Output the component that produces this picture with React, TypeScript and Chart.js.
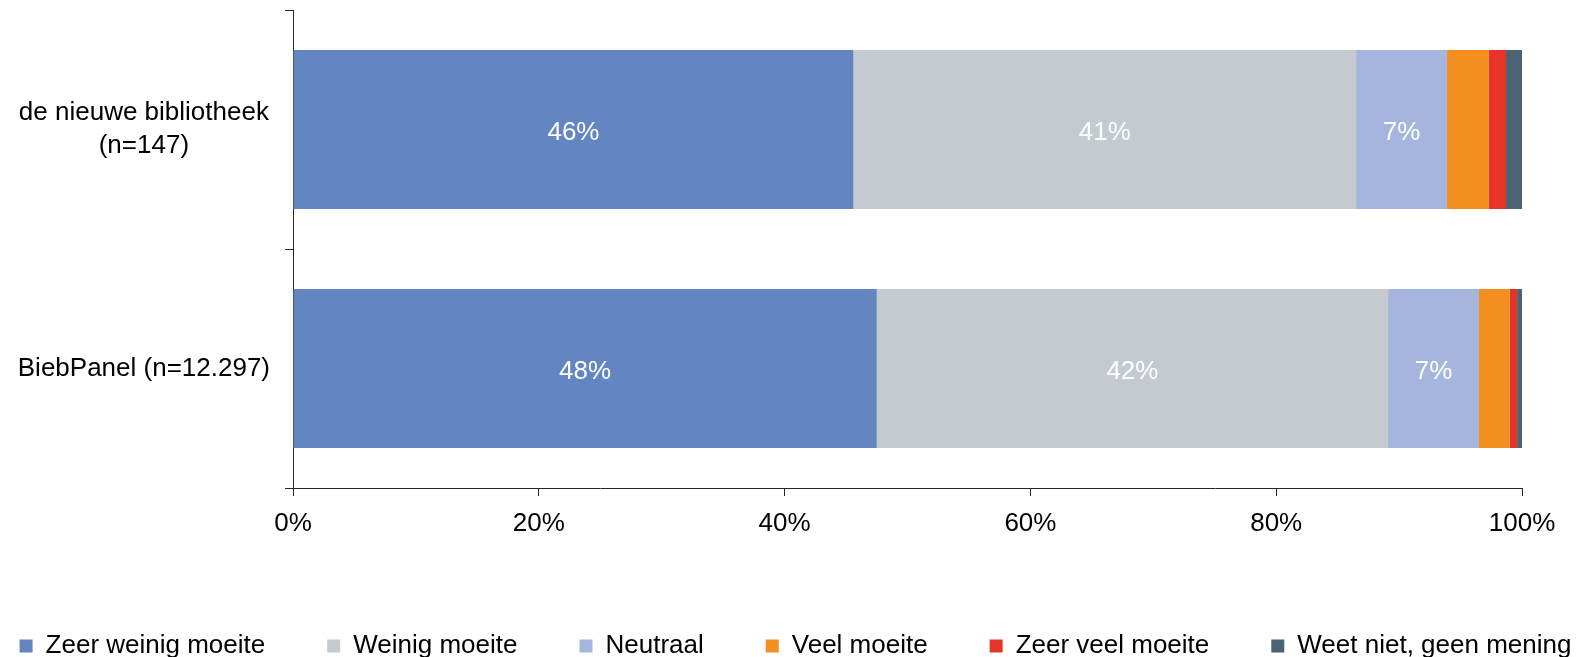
import React, { useEffect, useRef } from "react";
import { Chart, registerables } from "chart.js";

Chart.register(...registerables);

const categories: (string | string[])[] = [["de nieuwe bibliotheek", "(n=147)"], "BiebPanel (n=12.297)"];
const seriesNames = ["Zeer weinig moeite", "Weinig moeite", "Neutraal", "Veel moeite", "Zeer veel moeite", "Weet niet, geen mening"];
const zeerWeinigMoeite = [45.6, 47.5];
const weinigMoeite = [40.9, 41.6];
const neutraal = [7.4, 7.4];
const veelMoeite = [3.4, 2.5];
const zeerVeelMoeite = [1.4, 0.6];
const weetNiet = [1.3, 0.4];
const xTickValues = [0, 20, 40, 60, 80, 100];
const colors = ["#6385C2", "#C4CAD0", "#A5B5DD", "#F28F1F", "#E63428", "#4B6373"];

const FONT = "'Liberation Sans', Arial, Helvetica, sans-serif";
const AXIS = "#262626";

const dataLabelPlugin = {
  id: "dataLabels",
  afterDatasetsDraw(chart: any) {
    const ctx = chart.ctx;
    ctx.save();
    ctx.font = `26px ${FONT}`;
    ctx.fillStyle = "#ffffff";
    ctx.textAlign = "center";
    ctx.textBaseline = "middle";
    chart.data.datasets.forEach((ds: any, di: number) => {
      const meta = chart.getDatasetMeta(di);
      meta.data.forEach((el: any, i: number) => {
        const v = ds.data[i];
        if (v < 5) return;
        const p = el.getProps(["x", "y", "base"], true);
        ctx.fillText(Math.round(v) + "%", (p.x + p.base) / 2, p.y + 3);
      });
    });
    ctx.restore();
  },
};

const zeroPad = (s: any) => {
  s.paddingTop = 0;
  s.paddingBottom = 0;
  s.paddingLeft = 0;
  s.paddingRight = 0;
};

export default function App() {
  const ref = useRef<HTMLCanvasElement>(null);
  useEffect(() => {
    if (!ref.current) return;
    const values = [zeerWeinigMoeite, weinigMoeite, neutraal, veelMoeite, zeerVeelMoeite, weetNiet];
    const chart = new Chart(ref.current, {
      type: "bar",
      data: {
        labels: categories as any,
        datasets: values.map((d, i) => ({
          label: seriesNames[i],
          data: d,
          backgroundColor: colors[i],
          borderWidth: 0,
          barPercentage: 0.665,
          categoryPercentage: 1,
        })),
      },
      options: {
        indexAxis: "y",
        responsive: false,
        animation: false,
        layout: { autoPadding: false, padding: { top: 10, bottom: -12, left: -50, right: -50 } },
        scales: {
          x: {
            stacked: true,
            min: 0,
            max: 100,
            afterBuildTicks: (s: any) => {
              s.ticks = xTickValues.map((v) => ({ value: v }));
            },
            afterFit: (s: any) => {
              s.height = 83;
              zeroPad(s);
            },
            ticks: {
              callback: (v: any) => v + "%",
              color: "#000",
              font: { family: FONT, size: 26 },
              padding: 12,
              maxRotation: 0,
            },
            grid: { drawOnChartArea: false, drawTicks: true, tickLength: 8, color: AXIS, lineWidth: 1 },
            border: { display: true, color: AXIS, width: 1 },
          },
          y: {
            stacked: true,
            afterFit: (s: any) => {
              s.width = 343;
              zeroPad(s);
            },
            ticks: {
              color: "#000",
              font: { family: FONT, size: 26, lineHeight: 1.25 },
              padding: 15,
              crossAlign: "center",
            },
            grid: { drawOnChartArea: false, drawTicks: true, tickLength: 8, color: AXIS, lineWidth: 1, offset: true },
            border: { display: true, color: AXIS, width: 1 },
          },
          yR: {
            type: "linear",
            axis: "y",
            position: "right",
            display: true,
            afterFit: (s: any) => {
              s.width = 119;
              zeroPad(s);
            },
            ticks: { display: false },
            grid: { display: false },
            border: { display: false },
          } as any,
        },
        plugins: {
          legend: {
            position: "bottom",
            labels: {
              boxWidth: 13,
              boxHeight: 13,
              padding: 62,
              color: "#000",
              font: { family: FONT, size: 26 },
            },
          },
          tooltip: { enabled: false },
        },
      },
      plugins: [dataLabelPlugin],
    } as any);
    return () => chart.destroy();
  }, []);
  return (
    <div style={{ position: "absolute", left: 0, top: 0, width: 1591, height: 657, overflow: "hidden", background: "#fff" }}>
      <canvas ref={ref} width={1591} height={657} style={{ display: "block" }} />
    </div>
  );
}
